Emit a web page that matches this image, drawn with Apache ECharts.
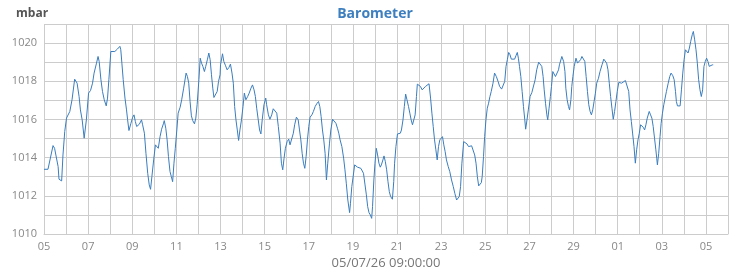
<!DOCTYPE html>
<html><head><meta charset="utf-8">
<script src="https://cdn.jsdelivr.net/npm/echarts@6/dist/echarts.min.js"></script>
<style>html,body{margin:0;padding:0;background:#fff}#c{width:750px;height:270px}</style>
</head><body><div id="c"></div>
<script>
const titleText = 'Barometer';
const unitText = 'mbar';
const xAxisName = '05/07/26 09:00:00';
const dayLabels = ['05','06','07','08','09','10','11','12','13','14','15','16','17','18','19','20','21','22','23','24','25','26','27','28','29','30','01','02','03','04','05','06'];
const dayOffsets = [0,0.18,0.41,0.48,0.64,0.68,0.8,0.86,0.94,1.02,1.17,1.27,1.39,1.5,1.59,1.65,1.73,1.82,1.92,2.02,2.11,2.2,2.27,2.38,2.45,2.5,2.58,2.65,2.73,2.82,2.88,2.94,3.03,3.11,3.21,3.33,3.44,3.48,3.53,3.59,3.67,3.74,3.79,3.85,3.94,4.02,4.08,4.14,4.2,4.32,4.42,4.47,4.55,4.62,4.7,4.77,4.83,4.89,4.97,5.05,5.11,5.18,5.26,5.33,5.41,5.45,5.52,5.58,5.64,5.71,5.77,5.83,5.89,5.95,6.02,6.08,6.17,6.24,6.33,6.44,6.5,6.56,6.62,6.68,6.74,6.82,6.88,6.94,7.02,7.08,7.14,7.2,7.27,7.33,7.41,7.47,7.53,7.59,7.65,7.7,7.79,7.85,7.91,7.98,
8,8.09,8.15,8.23,8.3,8.38,8.45,8.52,8.58,8.64,8.7,8.76,8.82,8.88,8.95,9.02,9.08,9.15,9.23,9.3,9.38,9.45,9.52,9.58,9.64,9.71,9.77,9.83,9.89,9.97,10.05,10.09,10.17,10.24,10.32,10.39,10.47,10.55,10.62,10.7,10.76,10.82,10.88,10.94,11.02,11.09,11.15,11.23,11.3,11.36,11.44,11.52,11.58,11.64,11.7,11.76,11.82,11.88,11.94,12,12.06,12.14,12.21,12.29,12.36,12.44,12.5,12.56,12.62,12.68,12.74,12.8,12.86,12.94,13,13.08,13.15,13.23,13.3,13.36,13.42,13.5,13.58,13.64,13.7,13.77,13.85,13.89,13.95,14.02,14.08,14.14,14.21,14.29,14.36,14.42,14.48,14.55,14.61,14.67,14.73,14.79,14.85,14.89,14.95,15,15.06,15.12,15.18,15.24,
15.29,15.36,15.41,15.47,15.53,15.59,15.65,15.71,15.79,15.85,15.89,15.95,16.02,16.09,16.15,16.2,16.27,16.33,16.39,16.45,16.52,16.58,16.64,16.7,16.76,16.82,16.88,16.92,17,17.06,17.14,17.21,17.29,17.36,17.45,17.52,17.58,17.64,17.7,17.76,17.82,17.88,17.94,18,18.06,18.12,18.18,18.24,18.32,18.39,18.47,18.55,18.62,18.7,18.77,18.82,18.88,18.94,19.02,19.09,19.17,19.24,19.3,19.38,19.45,19.52,19.58,19.64,19.7,19.76,19.82,19.86,19.92,19.97,20.03,20.09,20.15,20.21,20.27,20.35,20.42,20.5,20.58,20.65,20.74,20.82,20.88,20.94,21,21.06,21.12,21.18,21.26,21.33,21.39,21.45,21.5,21.55,21.61,21.67,21.73,21.79,21.83,21.89,21.95,22.03,22.11,22.18,22.26,22.33,22.42,22.5,22.56,22.62,22.67,22.73,22.79,22.83,22.89,22.95,23,23.06,23.12,23.18,23.24,23.32,23.36,
23.4,23.47,23.55,23.61,23.65,23.71,23.77,23.82,23.88,23.92,23.97,24.03,24.11,24.18,24.24,24.32,24.38,24.45,24.51,24.57,24.63,24.69,24.75,24.81,24.87,24.93,24.99,25.05,25.13,25.2,25.29,25.37,25.44,25.5,25.56,25.62,25.68,25.74,25.8,25.86,25.92,25.98,26.05,26.11,26.18,26.26,26.35,26.44,26.5,26.56,26.62,26.68,26.74,26.8,26.86,26.92,26.98,27.04,27.1,27.16,27.22,27.28,27.34,27.43,27.49,27.55,27.61,27.67,27.73,27.77,27.8,27.86,27.92,27.97,28.03,28.09,28.15,28.21,28.29,28.36,28.42,28.5,28.56,28.62,28.66,28.71,28.77,28.83,28.89,28.95,29.01,29.07,29.13,29.19,29.25,29.31,29.38,29.43,29.49,29.55,29.61,29.67,29.73,29.79,29.85,29.91,29.97,30.03,30.09,30.15,30.21,30.29,30.33];
const pressure = [1013.39,1013.39,1014.63,1014.49,1013.53,1012.87,1012.78,1014.14,1015.37,1016.07,1016.42,1017.03,1018.11,1017.9,1017.2,1016.5,1015.98,1015.02,1015.98,1017.38,1017.52,1017.9,1018.43,1018.95,1019.3,1019.04,1018.08,1017.47,1017.03,1016.71,1017.12,1018.08,1019.56,1019.62,1019.56,1019.69,1019.83,1019.65,1018.95,1018.08,1017.12,1016.5,1015.98,1015.42,1015.8,1016.12,1016.24,1015.89,1015.63,1015.75,1015.98,1015.72,1015.28,1014.23,1013.18,1012.57,1012.34,1013.01,1013.88,1014.67,1014.58,1014.49,1015.1,1015.49,1015.77,1015.94,1015.54,1014.93,1014.06,1013.27,1013.01,1012.74,1013.71,1014.49,1015.45,1016.33,1016.64,1017.03,1017.64,1018.43,1018.25,1017.9,1016.94,1016.19,1015.94,1015.77,1016.07,1016.77,1018.08,1019.21,1018.95,1018.78,1018.51,1018.78,1019.16,1019.48,1019.13,1018.34,1017.64,1017.15,1017.12,1017.47,1017.99,1018.34,
1018.86,1019.44,1019.04,1018.81,1018.6,1018.72,1018.9,1018.43,1017.9,1016.68,1015.98,1015.45,1014.9,1015.45,1015.98,1016.68,1017.38,1017.03,1017.2,1017.38,1017.64,1017.81,1017.55,1017.2,1016.59,1015.98,1015.45,1015.24,1015.98,1016.77,1017.12,1016.77,1016.24,1016.01,1016.24,1016.56,1016.5,1016.33,1015.63,1014.76,1013.71,1013.36,1013.97,1014.49,1014.84,1014.97,1014.67,1014.58,1015.28,1015.72,1016.12,1015.98,1015.45,1014.93,1014.23,1013.71,1013.44,1014.06,1014.93,1015.63,1016.12,1016.24,1016.42,1016.68,1016.82,1016.94,1016.68,1016.15,1015.45,1014.93,1014.23,1012.83,1013.71,1014.76,1015.45,1016.01,1015.94,1015.8,1015.54,1015.28,1014.93,1014.58,1013.97,1013.36,1012.66,1011.78,1011.12,1011.61,1012.48,1013.09,1013.62,1013.53,1013.5,1013.44,1013.44,1013.53,1013.18,1012.57,1012.05,1011.43,1011.12,1011.0,1010.82,1011.43,1012.83,1013.71,1014.49,1014.14,1013.71,1013.5,
1013.62,1013.88,1014.09,1013.79,1013.36,1012.74,1012.22,1011.96,1011.82,1012.74,1013.71,1014.58,1015.24,1015.24,1015.28,1015.45,1015.98,1016.68,1017.33,1017.03,1016.68,1016.33,1015.98,1015.72,1015.63,1016.24,1017.2,1017.85,1017.81,1017.73,1017.55,1017.64,1017.73,1017.81,1017.87,1017.12,1016.33,1015.63,1014.93,1014.41,1013.88,1014.58,1014.93,1015.02,1015.1,1014.67,1014.32,1013.88,1013.53,1013.27,1012.83,1012.48,1012.13,1011.78,1011.87,1011.96,1012.48,1013.71,1014.84,1014.79,1014.72,1014.58,1014.49,1014.62,1014.72,1014.14,1013.71,1013.01,1012.52,1012.62,1012.69,1013.01,1014.06,1015.1,1015.98,1016.59,1016.85,1017.2,1017.47,1017.9,1018.43,1018.25,1017.99,1017.73,1017.59,1017.52,1017.99,1018.78,1019.13,1019.51,1019.39,1019.16,1019.16,1019.16,1019.34,1019.51,1019.21,1018.78,1018.25,1017.47,1016.68,1015.98,1015.49,1015.98,1016.5,1017.2,1017.41,1017.41,1018.08,1018.6,1019.0,1018.95,1018.78,1018.25,1017.55,1016.85,1016.24,1015.98,1016.59,1017.2,1017.73,1018.51,1018.51,1018.25,1018.34,1018.6,1018.86,
1018.95,1019.3,1019.04,1018.51,1017.64,1017.03,1016.68,1016.5,1017.03,1017.73,1018.25,1018.78,1019.21,1018.95,1018.99,1019.13,1019.3,1019.39,1019.04,1018.25,1017.47,1016.77,1016.42,1016.24,1016.5,1016.94,1017.38,1017.9,1018.16,1018.51,1018.86,1019.16,1019.21,1018.95,1018.6,1017.9,1017.2,1016.59,1016.01,1016.42,1016.94,1017.47,1017.94,1017.94,1017.9,1017.99,1018.04,1018.04,1017.47,1016.5,1015.89,1015.24,1014.58,1013.71,1014.41,1014.93,1015.28,1015.72,1015.72,1015.59,1015.45,1015.72,1016.07,1016.42,1016.24,1016.07,1015.63,1015.02,1014.41,1013.97,1013.62,1014.23,1015.1,1015.8,1016.33,1016.77,1017.12,1017.47,1017.9,1018.25,1018.43,1018.29,1018.08,1017.47,1016.94,1016.71,1016.71,1016.71,1017.55,1018.43,1019.13,1019.65,1019.56,1019.48,1019.74,1020.09,1020.44,1020.61,1020.17,1019.65,1018.95,1018.08,1017.55,1017.2,1017.55,1018.78,1019.04,1019.21,1019.04,1018.78,1018.81,1018.86,1018.86];
const seriesData = dayOffsets.map((d, i) => [d, pressure[i]]);

const chart = echarts.init(document.getElementById('c'), null, {renderer: 'canvas'});
const font = '"Open Sans", "Noto Sans", sans-serif';
chart.setOption({
  animation: false,
  textStyle: {fontFamily: font},
  title: [
    {text: titleText, left: 'center', top: 2, textStyle: {fontFamily: font, fontSize: 14, fontWeight: 'bold', color: '#3d7fbf'}},
    {text: unitText, left: 11, top: 3, textStyle: {fontFamily: font, fontSize: 12, fontWeight: 'bold', color: '#555'}}
  ],
  grid: {left: 44, right: 22, top: 24, bottom: 36, containLabel: false, outerBoundsMode: 'none'},
  xAxis: {
    type: 'value', min: 0, max: 31, interval: 1,
    name: xAxisName, nameLocation: 'middle', nameGap: 21,
    nameTextStyle: {fontFamily: font, fontSize: 13, color: '#777'},
    axisLine: {show: true, lineStyle: {color: '#ccc'}},
    axisTick: {show: false},
    axisLabel: {color: '#888', fontSize: 11, margin: 7, fontFamily: font,
      formatter: v => (Math.round(v) % 2 === 0 ? dayLabels[Math.round(v)] : '')},
    splitLine: {show: true, lineStyle: {color: '#ccc', width: 1}}
  },
  yAxis: {
    type: 'value', min: 1010, max: 1021, interval: 1,
    axisLine: {show: false}, axisTick: {show: false},
    axisLabel: {color: '#888', fontSize: 11, margin: 7, fontFamily: font,
      formatter: v => (v % 2 === 0 ? String(v) : '')},
    splitLine: {show: true, lineStyle: {color: '#ccc', width: 1}}
  },
  series: [{
    type: 'line', data: seriesData, showSymbol: false, symbol: 'none',
    lineStyle: {color: '#3a7dbd', width: 1}, itemStyle: {color: '#3a7dbd'}
  }]
});
</script></body></html>
